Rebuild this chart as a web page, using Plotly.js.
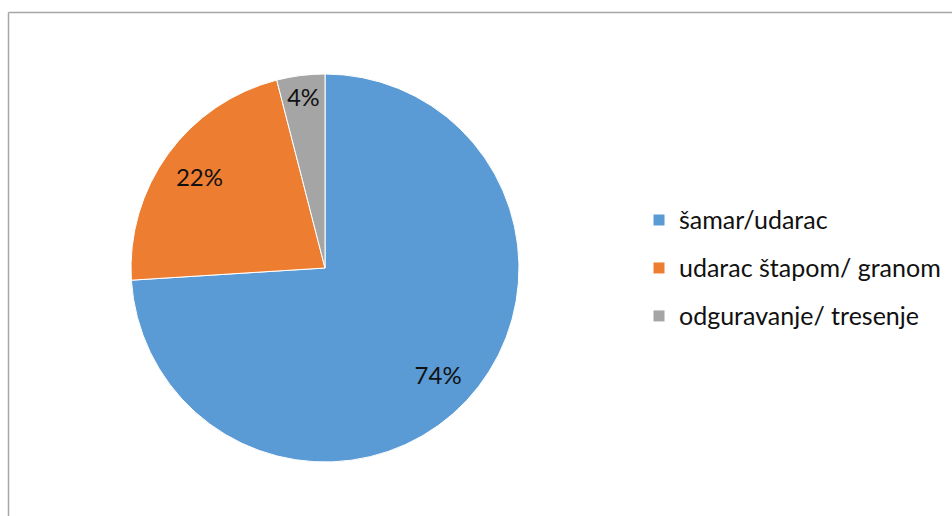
<!DOCTYPE html>
<html>
<head>
<meta charset="utf-8">
<script src="https://cdn.plot.ly/plotly-3.0.1.min.js"></script>
<style>html,body{margin:0;padding:0;background:#fff;}#chart{width:952px;height:516px;}</style>
</head>
<body>
<div id="chart"></div>
<script>
const labels = ["šamar/udarac", "udarac štapom/ granom", "odguravanje/ tresenje"];
const values = [74, 22, 4];
const colors = ["#5b9bd5", "#ed7d31", "#a5a5a5"];

const W = 952, H = 516;
const cx = 325, cy = 268, r = 194;
const FONT = "Lato, 'Open Sans', sans-serif";

// legend entries: extra blank lines give the wide row spacing of the original
const legendLabels = labels.map(function (s) {
  return "&nbsp;<br>&nbsp;<br><span style=\"font-size:25px\">" + s + "</span><br>&nbsp;";
});

const domain = {x: [(cx - r) / W, (cx + r) / W], y: [(H - cy - r) / H, (H - cy + r) / H]};

const pie = {
  type: "pie",
  labels: legendLabels,
  values: values,
  sort: false,
  direction: "clockwise",
  rotation: 0,
  marker: {colors: colors, line: {color: "#ffffff", width: 1}},
  textinfo: "none",
  hoverinfo: "none",
  domain: domain
};

// transparent ring carrying the percentage labels further out, like the original
const ring = {
  type: "pie",
  labels: legendLabels,
  values: values,
  sort: false,
  direction: "clockwise",
  rotation: 0,
  hole: 0.6,
  showlegend: false,
  marker: {colors: ["rgba(0,0,0,0)", "rgba(0,0,0,0)", "rgba(0,0,0,0)"], line: {width: 0}},
  texttemplate: "%{percent:.0%}",
  textposition: "inside",
  insidetextorientation: "horizontal",
  textfont: {family: FONT, size: 24, color: "#111111"},
  hoverinfo: "none",
  domain: domain
};

const layout = {
  width: W, height: H,
  margin: {l: 0, r: 0, t: 0, b: 0},
  paper_bgcolor: "#ffffff",
  showlegend: true,
  legend: {
    x: 639 / W, xanchor: "left",
    y: (H - 268) / H, yanchor: "middle",
    font: {family: FONT, size: 8.65, color: "#111111"},
    bgcolor: "rgba(0,0,0,0)"
  },
  shapes: [
    {type: "line", xref: "paper", yref: "paper", x0: 8.5 / W, x1: 1, y0: (H - 12.5) / H, y1: (H - 12.5) / H, line: {color: "#a6a6a6", width: 1.5}},
    {type: "line", xref: "paper", yref: "paper", x0: 8.5 / W, x1: 8.5 / W, y0: 0, y1: (H - 12.5) / H, line: {color: "#a6a6a6", width: 1.5}}
  ]
};

Plotly.newPlot("chart", [pie, ring], layout, {displayModeBar: false, responsive: false});
</script>
</body>
</html>
